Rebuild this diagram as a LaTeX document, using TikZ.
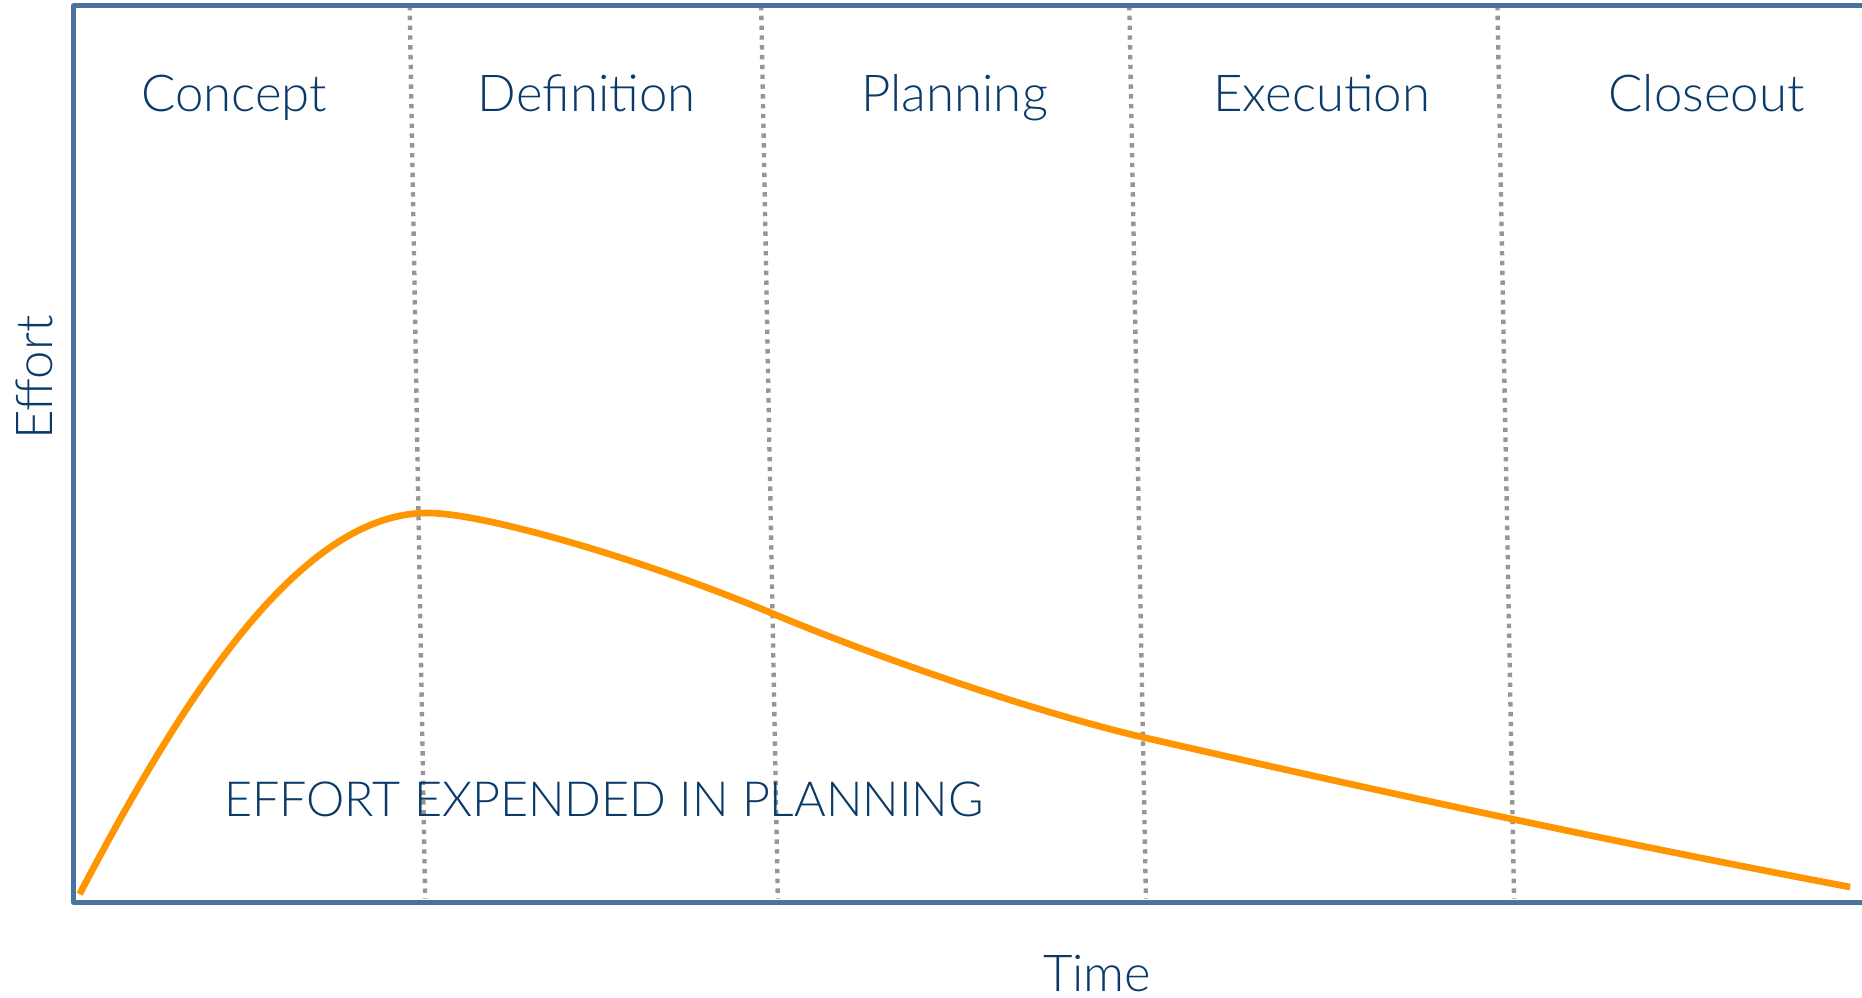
\documentclass[tikz,border=0pt]{standalone}
\usepackage{fontspec}
\setmainfont{Lato Light}
\usepackage{xcolor}
\usepackage{tikz}
\usetikzlibrary{positioning}
\usetikzlibrary{calc}
\definecolor{axe}{RGB}{74,114,158}
\definecolor{courbe}{RGB}{255,149,0}
\definecolor{texte}{RGB}{10,58,106}
\definecolor{grille}{RGB}{150,150,150}
\tikzset{
	phase/.style={font=\fontsize{12.2}{14}\selectfont,text=texte,inner sep=0pt},
	sep/.style={grille,line width=1.05pt,dash pattern=on 1.05pt off 1.3pt}
}

\begin{document}
\begin{tikzpicture}[x=0.1mm,y=-0.1mm]
	\def\gauche{62}
	\def\haut{5}
	\def\bas{760}
	\def\droite{1568}
\useasboundingbox (0,0) rectangle (\droite,840);

%Coins du cadre
\coordinate (HD) at (\droite,\haut);
\coordinate (HG) at (\gauche,\haut);
\coordinate (BG) at (\gauche,\bas);
\coordinate (BD) at (\droite,\bas);

%Separateurs des phases
\foreach \xa/\xb in {345/358,641/655,951/965,1261/1275}
	\draw[sep] (\xa,\haut) -- (\xb,757);

%Axes
\draw[axe,line width=1.2pt,line join=round] (HD) -- (HG) -- (BG) -- (BD);

%Courbe d'effort
\coordinate (debut) at (67,753);
\coordinate (pic) at (360,432);
\coordinate (inflexion) at (649,516);
\coordinate (milieu) at (963,621);
\coordinate (fin) at (1558,747);
\draw[courbe,line width=1.6pt] (debut) .. controls (150,595) and (250,432) .. (pic)
	.. controls (410,432) and (549,474) .. (inflexion)
	.. controls (739,554) and (873,600) .. (milieu)
	.. controls (1163,667) and (1358,709) .. (fin);

%Phases
\node[phase,anchor=base] (concept) at (197,94) {Concept};
\node[phase,anchor=base] (definition) at (494,94) {Definition};
\node[phase,anchor=base] (planning) at (804,94) {Planning};
\node[phase,anchor=base] (execution) at (1113,94) {Execution};
\node[phase,anchor=base] (closeout) at (1437,94) {Closeout};

%Titres des axes
\node[phase,anchor=base,rotate=90] (effort) at (44,318) {Effort};
\node[phase,anchor=base] (time) at (924,835) {Time};

\node[phase,anchor=base west,font=\fontsize{11.6}{14}\selectfont] (expended) at (188,688) {EFFORT EXPENDED IN PLANNING};

\end{tikzpicture}
\end{document}
